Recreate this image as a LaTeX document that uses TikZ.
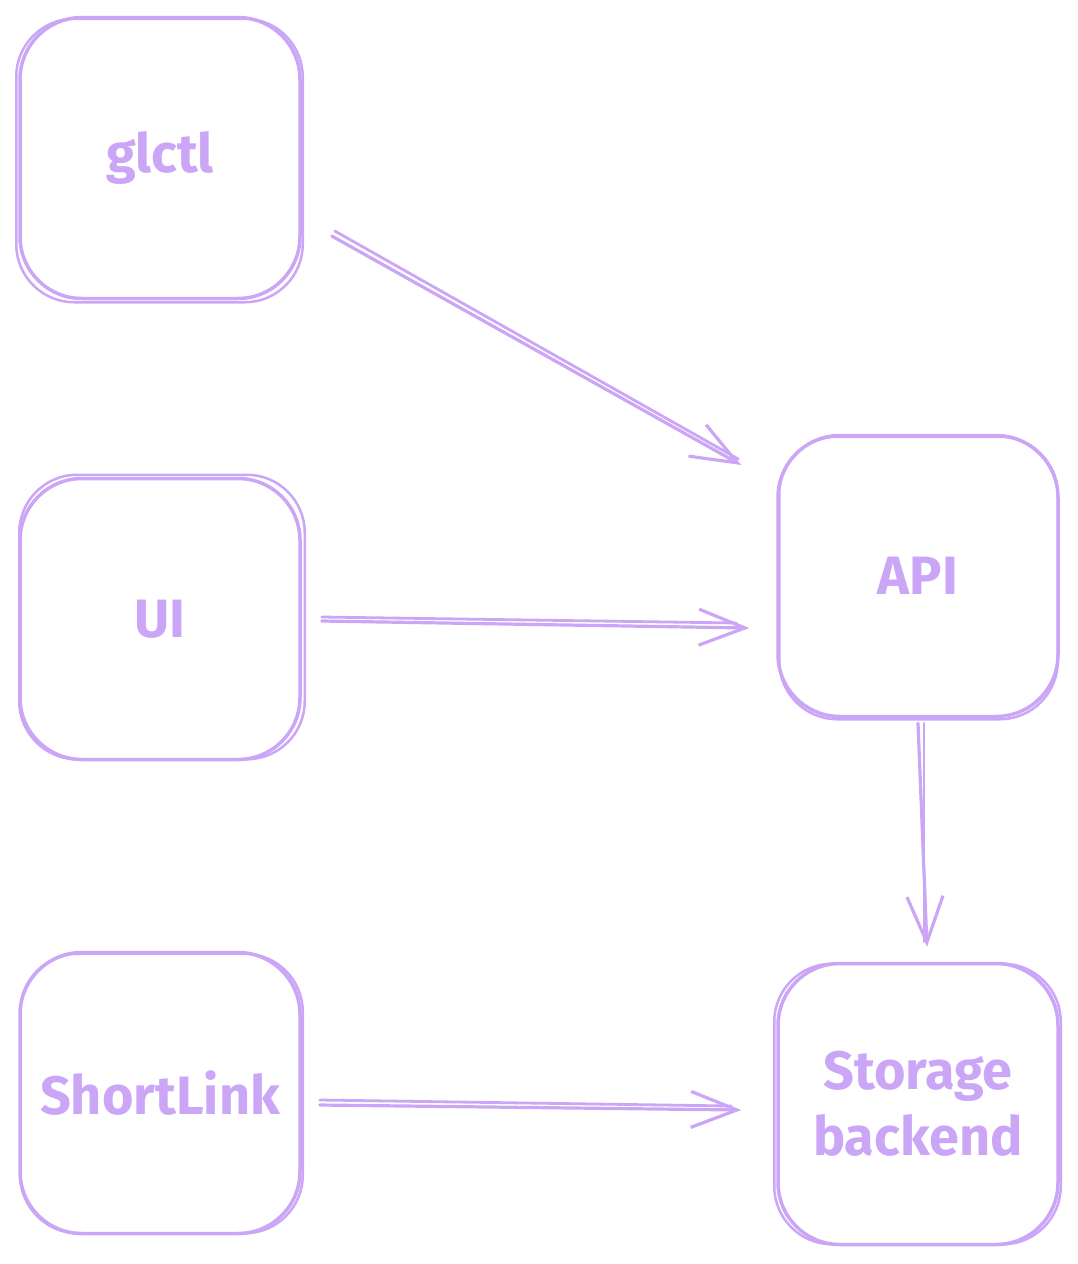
\documentclass[tikz,border=0pt]{standalone}
\usepackage{fontspec}
\setmainfont{Fira Sans}
\usetikzlibrary{arrows.meta}
\definecolor{mauve}{RGB}{203,166,247}
\tikzset{
  box/.style={draw=mauve, line width=3.5pt, rounded corners=62pt, minimum width=280pt, minimum height=281pt, inner sep=0pt, text=mauve, font=\fontsize{54}{66}\selectfont\bfseries, align=center},
  rough/.style={draw=mauve, line width=2.5pt, rounded corners=58pt},
  conn/.style={draw=mauve, line width=3.2pt, line cap=round, -{Straight Barb[length=46pt,width=36pt,line width=3.2pt]}},
  conntwin/.style={draw=mauve, line width=2.8pt, line cap=round}
}
\begin{document}
\begin{tikzpicture}[x=1pt,y=-1pt]
\useasboundingbox (0,0) rectangle (1077,1264);
\node[box] (glctl) at (160,158) {glctl};
\node[box] (ui) at (160,619) {UI};
\node[box] (short) at (160,1093) {ShortLink};
\node[box] (api) at (918,576) {API};
\node[box] (store) at (918,1104) {Storage\\backend};
% second rough outlines
\draw[rough] ([shift={(-2,3)}]glctl.north west) rectangle ([shift={(1,2)}]glctl.south east);
\draw[rough] ([shift={(1,-2)}]ui.north west) rectangle ([shift={(3,-2)}]ui.south east);
\draw[rough] ([shift={(2,3)}]short.north west) rectangle ([shift={(1,-2)}]short.south east);
\draw[rough] ([shift={(3,3)}]api.north west) rectangle ([shift={(-2,1)}]api.south east);
\draw[rough] ([shift={(-2,2)}]store.north west) rectangle ([shift={(1,-2)}]store.south east);
% connectors
\draw[conn] ([shift={(30,78)}]glctl.east) -- ([shift={(-35,-111)}]api.west);
\draw[conntwin] ([shift={(33,73)}]glctl.east) -- ([shift={(-38,-117)}]api.west);
\draw[conn] ([shift={(20,2)}]ui.east) -- ([shift={(-27,52)}]api.west);
\draw[conntwin] ([shift={(20,-2)}]ui.east) -- ([shift={(-40,47)}]api.west);
\draw[conn] ([shift={(0,5)}]api.south) -- ([shift={(9,-15)}]store.north);
\draw[conntwin] ([shift={(6,5)}]api.south) -- ([shift={(6,-20)}]store.north);
\draw[conn] ([shift={(18,12)}]short.east) -- ([shift={(-35,6)}]store.west);
\draw[conntwin] ([shift={(18,7)}]short.east) -- ([shift={(-45,2)}]store.west);
\end{tikzpicture}
\end{document}
